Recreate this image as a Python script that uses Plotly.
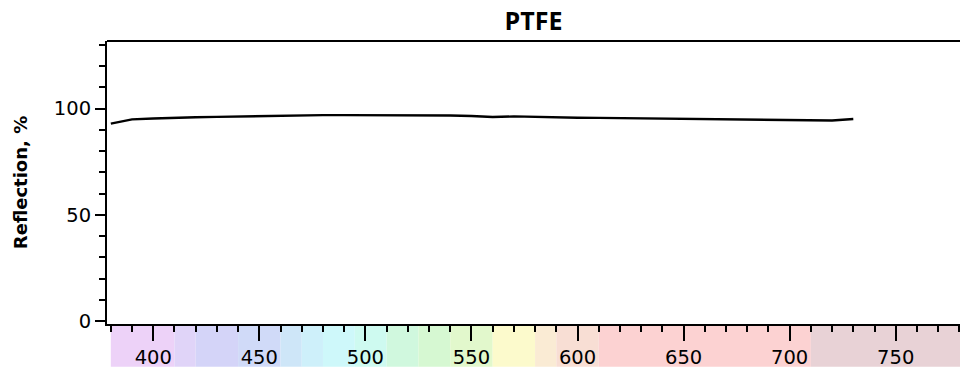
import plotly.graph_objects as go

# Data
wavelength_nm = [380, 390, 400, 410, 420, 430, 440, 450, 460, 470, 480, 490, 500,
                 510, 520, 530, 540, 550, 560, 570, 580, 590, 600, 610, 620, 630,
                 640, 650, 660, 670, 680, 690, 700, 710, 720, 730]
reflection_pct = [92.9, 94.9, 95.3, 95.7, 95.9, 96.1, 96.3, 96.4, 96.6, 96.7, 96.9, 96.9, 96.9,
                  96.9, 97.0, 96.9, 96.7, 96.5, 96.0, 96.3, 96.0, 95.9, 95.7, 95.6, 95.5, 95.4,
                  95.3, 95.2, 95.3, 95.1, 94.9, 94.8, 94.8, 94.7, 94.4, 95.1]

# Spectrum colour band under the x axis (start, end in nm, colour)
band_start = [380, 410, 420, 440, 460, 470, 480, 495, 510, 525, 540, 560, 580, 590, 610, 710]
band_end   = [410, 420, 440, 460, 470, 480, 495, 510, 525, 540, 560, 580, 590, 610, 710, 800]
band_color = ["#EDD2F8", "#E0D4F8", "#D4D4F8", "#D0DAF8", "#CEE6F8", "#CEF0FA",
              "#CEF8FA", "#CEFAF0", "#D0F8DE", "#D6F8D2", "#E2F8CC", "#FCFACC",
              "#FAEBD4", "#F8DED4", "#FCD2D2", "#E8D2D6"]

title_text = "PTFE"
y_title = "Reflection, %"

fig = go.Figure()
fig.add_trace(go.Scatter(x=wavelength_nm, y=reflection_pct, mode="lines",
                         line=dict(color="black", width=2.4), showlegend=False))

for s, e, c in zip(band_start, band_end, band_color):
    fig.add_shape(type="rect", xref="x", yref="paper", x0=s, x1=e, y0=-0.151, y1=-0.007,
                  fillcolor=c, line=dict(width=0), layer="below")

# top frame line
fig.add_shape(type="line", xref="paper", yref="paper", x0=0, x1=1, y0=1, y1=1,
              line=dict(color="black", width=2))

fig.update_layout(
    width=960, height=369,
    margin=dict(l=107, r=0, t=41, b=43),
    paper_bgcolor="white", plot_bgcolor="white",
    font=dict(family="DejaVu Sans", color="black"),
    title=dict(text=title_text, x=0.5, xref="paper", y=1 - 21.5 / 369, yref="container",
               xanchor="center", yanchor="middle",
               font=dict(family="Open Sans", size=25, color="black", weight="bold")),
)
fig.update_xaxes(range=[378.2, 780.3], showgrid=False, zeroline=False,
                 showline=True, linecolor="black", linewidth=2,
                 ticks="outside", tickwidth=2, ticklen=15, tickcolor="black",
                 dtick=50, tick0=400, tickfont=dict(size=19.5, family="DejaVu Sans"),
                 minor=dict(ticks="outside", dtick=10, tick0=380, ticklen=6,
                            tickwidth=2, tickcolor="black"))
fig.update_yaxes(range=[-1.4, 131.8], showgrid=False, zeroline=False,
                 showline=True, linecolor="black", linewidth=2,
                 ticks="outside", tickwidth=2, ticklen=10, tickcolor="black",
                 dtick=50, tick0=0, tickfont=dict(size=19.5, family="DejaVu Sans"),
                 minor=dict(ticks="outside", dtick=10, tick0=0, ticklen=6,
                            tickwidth=2, tickcolor="black"),
                 title=dict(text=y_title, standoff=22,
                            font=dict(family="DejaVu Sans", size=18, weight="bold")))

fig.write_html("out.html", config={"displayModeBar": False},
               post_script="document.body.style.margin='0';document.body.style.overflow='hidden';")
